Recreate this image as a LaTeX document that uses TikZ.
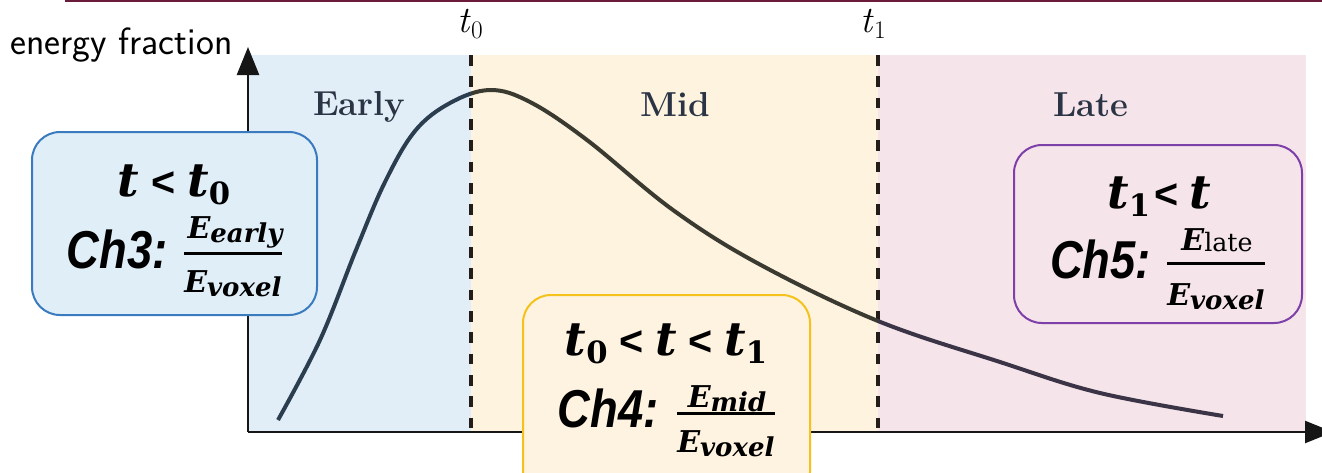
\documentclass[tikz,border=0pt]{standalone}
\usepackage{fontspec}
\usepackage{graphicx}
\usetikzlibrary{arrows.meta}
\newfontfamily\dvs{DejaVu Serif}
\newfontfamily\lsans{Liberation Sans}
\definecolor{bgEarly}{HTML}{E1EEF7}
\definecolor{bgMid}{HTML}{FDF3DF}
\definecolor{bgLate}{HTML}{F5E4E9}
\definecolor{fillA}{HTML}{E0EEF8}
\definecolor{drawA}{HTML}{3A7BBF}
\definecolor{fillB}{HTML}{FEF3E0}
\definecolor{drawB}{HTML}{F5C21B}
\definecolor{fillC}{HTML}{F5E5EA}
\definecolor{drawC}{HTML}{7D3FA8}
\definecolor{regText}{HTML}{2B3445}
\definecolor{cEarly}{HTML}{2B3E50}
\definecolor{cMid}{HTML}{3B3A30}
\definecolor{cLate}{HTML}{3A3446}
\definecolor{axisCol}{HTML}{161616}
\definecolor{dashCol}{HTML}{231C18}
\definecolor{topCol}{HTML}{6A1B3A}
\newcommand\myt{{\dvs\bfseries\itshape t}}
\newcommand\mysubd[1]{\raisebox{-6.5pt}{\fontsize{23}{24}\selectfont\dvs\bfseries #1}}
\newcommand\myless{{\lsans\bfseries\fontsize{31}{31}\selectfont <}}
\newcommand\myE[1]{{\fontsize{22.5}{24}\selectfont\dvs\bfseries\itshape E}\raisebox{-3.5pt}{\fontsize{19.5}{21}\selectfont\dvs\bfseries\itshape #1}}
\newcommand\myEup[1]{{\fontsize{22.5}{24}\selectfont\dvs\bfseries\itshape E}\raisebox{-1pt}{\fontsize{19}{21}\selectfont\dvs #1}}
\newcommand\mych[1]{\scalebox{0.85}[1]{\fontsize{40}{40}\selectfont\lsans\bfseries\itshape #1}}
\newcommand\tsub[1]{\textit{t}\raisebox{-4.5pt}{\fontsize{19}{20}\selectfont #1}}
\tikzset{
  region/.style={font=\fontsize{26}{28}\selectfont\rmfamily\bfseries, text=regText, anchor=base, inner sep=0pt},
  tlabel/.style={font=\fontsize{28}{30}\selectfont\rmfamily, anchor=base, inner sep=0pt},
  axisline/.style={draw=axisCol, line width=1.9pt, -{Triangle[width=16.5pt,length=21pt]}},
  dashline/.style={draw=dashCol, line width=3pt, dash pattern=on 8pt off 8pt},
  curveline/.style={line width=3pt},
  chbox/.style={rectangle, rounded corners=21pt, line width=1.5pt, inner sep=0pt},
  lineone/.style={font=\fontsize{35}{38}\selectfont, anchor=base, inner sep=0pt},
  chtext/.style={anchor=base east, inner sep=0pt},
  fracpart/.style={inner sep=0pt},
  fracrule/.style={line width=2.25pt, draw=black},
}
\begin{document}
\begin{tikzpicture}[x=0.75pt,y=-0.75pt]
\useasboundingbox (0,0) rectangle (1322,472);
% top line
\coordinate (tl1) at (65,1);
\coordinate (tl2) at (1322,1);
\draw[topCol, line width=1.5pt] (tl1) -- (tl2);
% regions
\fill[bgEarly] (248,55) rectangle (471,432);
\fill[bgMid] (471,55) rectangle (878,432);
\fill[bgLate] (878,55) rectangle (1306,432);
% axes
\coordinate (o) at (248,432);
\coordinate (ytip) at (248,47);
\coordinate (xtip) at (1333,432);
\draw[axisline] (o) -- (ytip);
\draw[axisline] (o) -- (xtip);
% dashed lines
\coordinate (d0a) at (471,55);
\coordinate (d0b) at (471,432);
\coordinate (d1a) at (878,55);
\coordinate (d1b) at (878,432);
\draw[dashline] (d0a) -- (d0b);
\draw[dashline] (d1a) -- (d1b);
% curve
\path[save path=\cpath] plot[smooth, tension=0.6] coordinates {(278,420) (320,340) (356,250) (385,182) (415,131) (450,103) (490,90) (530,102) (587,140) (673,210) (759,264) (878,321) (1000,362) (1100,393) (1223,416)};
\begin{scope}
\clip (0,0) rectangle (471,472);
\draw[curveline, draw=cEarly, use path=\cpath];
\end{scope}
\begin{scope}
\clip (471,0) rectangle (878,472);
\draw[curveline, draw=cMid, use path=\cpath];
\end{scope}
\begin{scope}
\clip (878,0) rectangle (1322,472);
\draw[curveline, draw=cLate, use path=\cpath];
\end{scope}
% labels
\node[font=\fontsize{28.5}{30}\selectfont\sffamily, anchor=base west, inner sep=0pt] (ylab) at (10,54) {energy fraction};
\node[tlabel] (t0) at (470,32) {\tsub{0}};
\node[tlabel] (t1) at (873,32) {\tsub{1}};
\node[region] (early) at (359,115) {Early};
\node[region] (mid) at (675,116) {Mid};
\node[region] (late) at (1091,116) {Late};
% box 3
\node[chbox, draw=drawA, fill=fillA, minimum width=213.75pt, minimum height=137.25pt] (box3) at (174.5,223.5) {};
\node[lineone] (b3l1) at (174,196) {\myt\hspace{9pt}\myless\hspace{9pt}\myt\mysubd{0}};
\node[chtext] (ch3) at (168,268) {\mych{Ch3:}};
\node[fracpart, anchor=base west] (den3) at (184,292) {\myE{voxel}};
\node[fracpart, anchor=base] (num3) at (235,238) {\myE{early}};
\coordinate (r3) at (0,253);
\draw[fracrule] (den3.west |- r3) -- (den3.east |- r3);
% box 4
\node[chbox, draw=drawB, fill=fillB, minimum width=215.25pt, minimum height=153.75pt] (box4) at (666.5,397.5) {};
\node[lineone] (b4l1) at (666,355) {\myt\mysubd{0}\hspace{9pt}\myless\hspace{9pt}\myt\hspace{8pt}\myless\hspace{9pt}\myt\mysubd{1}};
\node[chtext] (ch4) at (659,427) {\mych{Ch4:}};
\node[fracpart, anchor=base west] (den4) at (677,452) {\myE{voxel}};
\node[fracpart, anchor=base] (num4) at (727,407) {\myE{mid}};
\coordinate (r4) at (0,413);
\draw[fracrule] (den4.west |- r4) -- (den4.east |- r4);
% box 5
\node[chbox, draw=drawC, fill=fillC, minimum width=216pt, minimum height=133.5pt] (box5) at (1158,234) {};
\node[lineone] (b5l1) at (1159,208) {\myt\mysubd{1}\hspace{3pt}\myless\hspace{8pt}\myt};
\node[chtext] (ch5) at (1151,278) {\mych{Ch5:}};
\node[fracpart, anchor=base west] (den5) at (1167,305) {\myE{voxel}};
\node[fracpart, anchor=base] (num5) at (1217,250) {\myEup{late}};
\coordinate (r5) at (0,263);
\draw[fracrule] (den5.west |- r5) -- (den5.east |- r5);
\end{tikzpicture}
\end{document}
